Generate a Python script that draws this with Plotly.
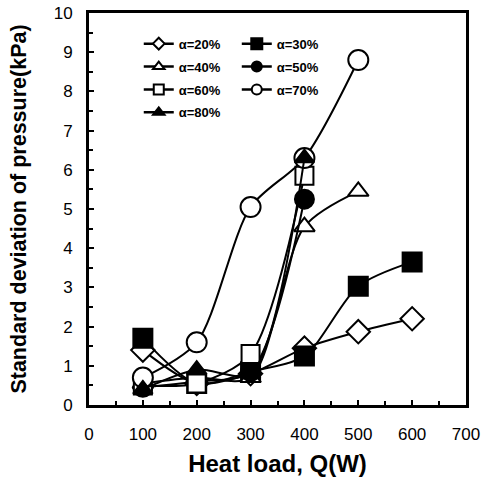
import plotly.graph_objects as go

heat_load = [100, 200, 300, 400, 500, 600]

a20 = [1.4, 0.55, 0.8, 1.45, 1.87, 2.2]
a30 = [1.7, 0.55, 0.85, 1.25, 3.03, 3.65]
a40 = [0.55, 0.7, 0.7, 4.55, 5.45]
a50 = [0.45, 0.6, 0.85, 5.25]
a60 = [0.5, 0.55, 1.3, 5.85]
a70 = [0.7, 1.6, 5.05, 6.3, 8.8]
a80 = [0.4, 0.9, 0.8, 6.3]

labels = ["α=20%", "α=30%", "α=40%", "α=50%", "α=60%", "α=70%", "α=80%"]
series = [a20, a30, a40, a50, a60, a70, a80]
symbols = ["diamond", "square", "triangle-up", "circle", "square", "circle", "triangle-up"]
filled = [False, True, False, True, False, False, True]
legends = ["legend", "legend2", "legend", "legend2", "legend", "legend2", "legend"]
sizes = [18, 19, 18, 19, 18, 20, 17]
legend_sizes = [9, 11, 10, 10, 10, 10, 10]

fig = go.Figure()
for lab, ys, sym, fil, sz in zip(labels, series, symbols, filled, sizes):
    fig.add_trace(go.Scatter(
        x=heat_load[:len(ys)], y=ys, name=lab, mode="lines+markers", showlegend=False,
        line=dict(color="black", width=2, shape="spline", smoothing=0.8),
        marker=dict(symbol=sym, size=sz, color="black" if fil else "white",
                    line=dict(color="black", width=2)),
    ))

# legend-only entries with small markers
for lab, sym, fil, lg, lsz in zip(labels, symbols, filled, legends, legend_sizes):
    fig.add_trace(go.Scatter(
        x=[None], y=[None], name=lab, mode="lines+markers", legend=lg, legendgroup=lab,
        line=dict(color="black", width=2.5),
        marker=dict(symbol=sym, size=lsz, color="black" if fil else "white",
                    line=dict(color="black", width=2)),
    ))

axis_common = dict(
    showline=True, linecolor="black", linewidth=3, mirror=True,
    ticks="inside", ticklen=5, tickwidth=2, tickcolor="black",
    showgrid=False, zeroline=False, automargin=False,
    tickfont=dict(family="Liberation Sans, Arial", size=17, color="black"),
)

legend_font = dict(family="Liberation Sans, Arial", size=13, color="black", weight="bold")

fig.update_layout(
    width=486, height=481,
    margin=dict(l=89, r=20, t=13, b=76),
    paper_bgcolor="white", plot_bgcolor="white",
    xaxis=dict(range=[0, 700], dtick=100, ticklabelstandoff=12,
               minor=dict(dtick=50, ticks="inside", ticklen=4, tickwidth=2, tickcolor="black"),
               title=dict(text="<b>Heat load, Q(W)</b>", standoff=12,
                          font=dict(family="Liberation Sans, Arial", size=24, color="black")),
               **axis_common),
    yaxis=dict(range=[0, 10], dtick=1, ticklabelstandoff=10,
               minor=dict(dtick=0.5, ticks="inside", ticklen=4, tickwidth=2, tickcolor="black"),
               title=dict(text="<b>Standard deviation of pressure(kPa)</b>", standoff=22,
                          font=dict(family="Liberation Sans, Arial", size=21.5, color="black")),
               **axis_common),
    legend=dict(x=0.132, y=0.96, xanchor="left", yanchor="top", bgcolor="rgba(0,0,0,0)",
                itemsizing="trace", tracegroupgap=3, font=legend_font),
    legend2=dict(x=0.392, y=0.96, xanchor="left", yanchor="top", bgcolor="rgba(0,0,0,0)",
                 itemsizing="trace", tracegroupgap=3, font=legend_font),
)

fig.write_html("out.html")
